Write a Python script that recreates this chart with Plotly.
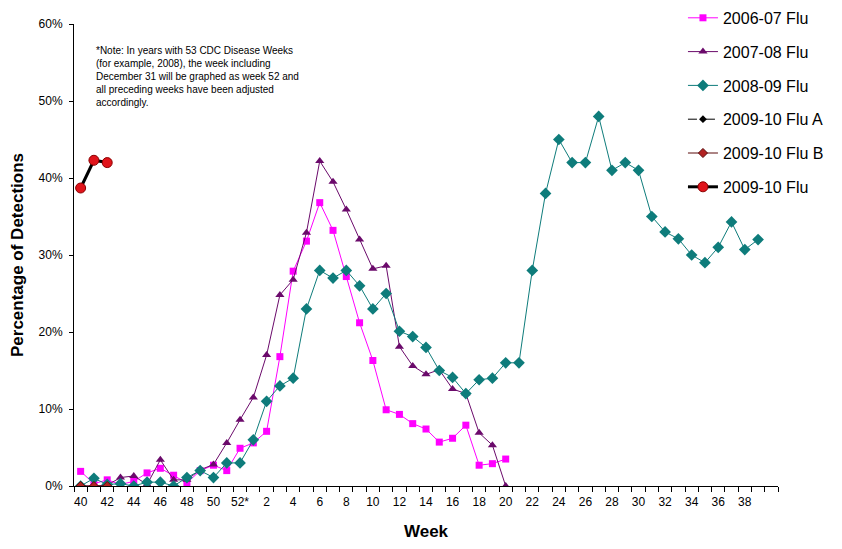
import plotly.graph_objects as go

# CDC week categories on the x axis (week 52 carries the 53-week footnote)
WEEK_LABELS = ([str(w) for w in range(40, 52)] + ["52*"]
               + [str(w) for w in range(1, 40)] + [""])

# percentage of detections, one value per category starting at week 40
FLU_2006_07 = [1.9, 0.3, 0.8, 0.2, 0.6, 1.7, 2.3, 1.4, 0.4, 2.0, 2.7, 2.0, 4.9,
               5.6, 7.1, 16.8, 27.9, 31.8, 36.8, 33.2, 27.2, 21.2, 16.3, 9.9,
               9.3, 8.1, 7.4, 5.7, 6.2, 7.9, 2.7, 2.9, 3.5]
FLU_2007_08 = [0.0, 0.0, 0.1, 1.1, 1.3, 0.2, 3.4, 0.8, 0.8, 2.1, 2.8, 5.6, 8.6,
               11.5, 17.0, 24.8, 26.8, 32.9, 42.2, 39.5, 35.9, 32.0, 28.2, 28.6,
               18.1, 15.6, 14.5, 15.1, 12.6, 12.0, 6.9, 5.3, 0.0]
FLU_2008_09 = [0.0, 1.0, 0.2, 0.3, 0.0, 0.5, 0.5, 0.0, 1.1, 2.0, 1.1, 3.0, 3.0,
               6.0, 11.0, 13.0, 14.0, 23.0, 28.0, 27.0, 28.0, 26.0, 23.0, 25.0,
               20.1, 19.4, 18.0, 15.0, 14.1, 12.0, 13.8, 14.0, 16.0, 16.0, 28.0,
               38.0, 45.0, 42.0, 42.0, 48.0, 41.0, 42.0, 41.0, 35.0, 33.0, 32.1,
               30.0, 29.0, 31.0, 34.3, 30.7, 32.0]
FLU_2009_10_A = [38.7, 42.3, 42.0]
FLU_2009_10_B = [0.0, 0.0, 0.0]
FLU_2009_10 = [38.7, 42.3, 42.0]

NOTE = ("*Note: In years with 53 CDC Disease Weeks<br>"
        "(for example, 2008), the week including<br>"
        "December 31 will be graphed as week 52 and<br>"
        "all preceding weeks have been adjusted<br>"
        "accordingly.")

FONT = "Liberation Sans, Arial, sans-serif"


def xs(vals):
    return list(range(len(vals)))


fig = go.Figure()
fig.add_trace(go.Scatter(
    x=xs(FLU_2006_07), y=FLU_2006_07, name="2006-07 Flu", legendgroup="a",
    mode="lines+markers", line=dict(color="#FF00FF", width=1),
    marker=dict(symbol="square", size=7, color="#FF00FF"),
))
fig.add_trace(go.Scatter(
    x=xs(FLU_2007_08), y=FLU_2007_08, name="2007-08 Flu", legendgroup="b",
    mode="lines+markers", line=dict(color="#6B0A6B", width=1),
    marker=dict(symbol="triangle-up", size=8, color="#6B0A6B"),
))
fig.add_trace(go.Scatter(
    x=xs(FLU_2008_09), y=FLU_2008_09, name="2008-09 Flu", legendgroup="c",
    mode="lines+markers", line=dict(color="#0E7C7B", width=1),
    marker=dict(symbol="diamond", size=9, color="#0E7C7B"),
))
fig.add_trace(go.Scatter(
    x=xs(FLU_2009_10_A), y=FLU_2009_10_A, name="2009-10 Flu A", legendgroup="d",
    mode="lines+markers", line=dict(color="black", width=1, dash="dash"),
    marker=dict(symbol="diamond", size=6, color="black"),
))
fig.add_trace(go.Scatter(
    x=xs(FLU_2009_10_B), y=FLU_2009_10_B, name="2009-10 Flu B", legendgroup="e",
    mode="lines+markers", line=dict(color="#5A0A0A", width=1),
    marker=dict(symbol="diamond", size=7, color="#B22222",
                line=dict(color="#5A0A0A", width=1)),
))
fig.add_trace(go.Scatter(
    x=xs(FLU_2009_10), y=FLU_2009_10, name="2009-10 Flu", legendgroup="f",
    mode="lines+markers", line=dict(color="black", width=3),
    marker=dict(symbol="circle", size=10, color="#E0141B",
                line=dict(color="#8B0000", width=1)),
))

fig.update_xaxes(
    range=[-0.5, len(WEEK_LABELS) - 0.5],
    tickmode="array",
    tickvals=list(range(0, len(WEEK_LABELS), 2)),
    ticktext=WEEK_LABELS[::2],
    ticks="outside", ticklen=5, tickcolor="rgba(0,0,0,0)",
    minor=dict(tickmode="array",
               tickvals=[i - 0.5 for i in range(len(WEEK_LABELS) + 1)],
               ticks="outside", ticklen=5, tickcolor="black", tickwidth=1),
    showline=True, linecolor="black", linewidth=1,
    showgrid=False, zeroline=False,
    tickfont=dict(family=FONT, size=12, color="black"),
    title=dict(text="<b>Week</b>", font=dict(family=FONT, size=17, color="black"),
               standoff=16),
)
fig.update_yaxes(
    range=[0, 60], dtick=10, ticksuffix="%",
    ticks="outside", ticklen=4, tickcolor="black", ticklabelstandoff=4,
    showline=True, linecolor="black", linewidth=1,
    showgrid=False, zeroline=False,
    tickfont=dict(family=FONT, size=12, color="black"),
    title=dict(text="<b>Percentage of Detections</b>",
               font=dict(family=FONT, size=17, color="black"), standoff=12),
)

fig.add_annotation(
    text=NOTE, xref="paper", yref="paper", x=0.028, y=0.958,
    xanchor="left", yanchor="top", align="left", showarrow=False,
    font=dict(family=FONT, size=10, color="black"),
)

# page body adds ~8px offset, so the figure is sized a bit under the window
fig.update_layout(
    width=834, height=541,
    margin=dict(l=66, r=64, t=16, b=63, autoexpand=False),
    plot_bgcolor="white", paper_bgcolor="white",
    showlegend=True,
    legend=dict(x=0.865, y=1.05, xanchor="left", yanchor="top",
                font=dict(family=FONT, size=16, color="black"),
                bgcolor="rgba(0,0,0,0)", tracegroupgap=10),
)

fig.write_html("out.html")
